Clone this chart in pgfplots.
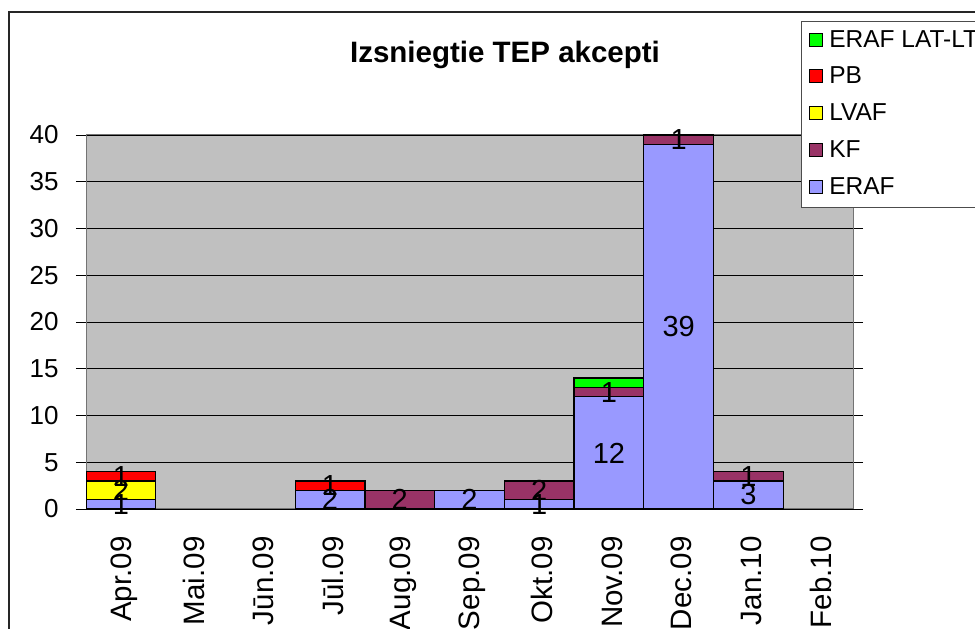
\documentclass[border=0pt]{standalone}
\usepackage{fontspec}
\setmainfont{Liberation Sans}
\usepackage{pgfplots}
\usepackage{pgfplotstable}
\pgfplotsset{compat=1.18}
\definecolor{eraf}{RGB}{153,153,255}
\definecolor{kf}{RGB}{153,51,102}
\definecolor{lvaf}{RGB}{255,255,0}
\definecolor{pb}{RGB}{255,0,0}
\definecolor{ltc}{RGB}{0,255,0}
\definecolor{plotbg}{RGB}{192,192,192}

\pgfplotstableread{
x ERAF KF LVAF PB LT
0 1 0 2 1 0
1 0 0 0 0 0
2 0 0 0 0 0
3 2 0 0 1 0
4 0 2 0 0 0
5 2 0 0 0 0
6 1 2 0 0 0
7 12 1 0 0 1
8 39 1 0 0 0
9 3 1 0 0 0
10 0 0 0 0 0
}\datatable

\pgfplotstableread{
x y label
0 0.5 1
0 2 2
0 3.5 1
3 1 2
3 2.5 1
4 1 2
5 1 2
6 0.5 1
6 2 2
7 6 12
7 12.5 1
8 19.5 39
8 39.5 1
9 1.5 3
9 3.5 1
}\labeltable

\begin{document}
\begin{tikzpicture}
\useasboundingbox (0pt,0pt) rectangle (975pt,629pt);
\clip (0pt,0pt) rectangle (975pt,629pt);
\draw[line width=2pt, black!85] (8.5pt,-10pt) -- (8.5pt,616.5pt) -- (990pt,616.5pt);
\begin{axis}[
  at={(86pt,120pt)}, anchor=south west,
  scale only axis, width=767pt, height=374pt,
  ybar stacked, bar width=69.73pt,
  xmin=-0.5, xmax=10.5, ymin=0, ymax=40,
  axis background/.style={fill=plotbg},
  axis line style={draw=black!55, line width=1pt},
  ymajorgrids, grid style={black, line width=0.8pt},
  ytick={0,5,...,40},
  xtick={0,...,10},
  xticklabels={Apr.09,Mai.09,Jūn.09,Jūl.09,Aug.09,Sep.09,Okt.09,Nov.09,Dec.09,Jan.10,Feb.10},
  x tick style={draw=none},
  extra x ticks={-0.5,0.5,...,10.5},
  extra x tick labels={},
  extra x tick style={tick style={draw=black, line width=0.8pt}, major tick length=8pt, tick align=outside, grid=none},
  y tick style={draw=black, line width=0.8pt},
  tick align=outside, major tick length=10pt,
  /pgf/number format/assume math mode=true,
  yticklabel style={font=\fontsize{26}{30}\selectfont, anchor=east, xshift=-14pt},
  xticklabel style={font=\fontsize{29.5}{33}\selectfont, yshift=-14pt, xshift=3pt, rotate=90, anchor=east},
  title={\bfseries Izsniegtie TEP akcepti},
  title style={at={(axis description cs:0.5463,1.1765)}, anchor=base, font=\fontsize{29.5}{33}\selectfont, inner sep=0pt},
  legend style={at={(axis description cs:0.9322,1.3048)}, anchor=north west,
    draw=black!70, line width=1pt, fill=white,
    font=\fontsize{24.5}{28}\selectfont,
    inner xsep=7pt, inner ysep=8.5pt, row sep=14.8pt,
    /tikz/every odd column/.append style={column sep=7pt},
    nodes={inner sep=0pt, text height=17pt, text depth=5pt}},
  legend cell align=left,
  reverse legend,
  legend image code/.code={\draw[#1, draw=black, line width=0.8pt] (0pt,-5pt) rectangle (13pt,8pt);},
  every axis plot/.append style={draw=black, line width=1.2pt},
]
\addplot[fill=eraf] table[x=x,y=ERAF] {\datatable};
\addlegendentry{ERAF}
\addplot[fill=kf] table[x=x,y=KF] {\datatable};
\addlegendentry{KF}
\addplot[fill=lvaf] table[x=x,y=LVAF] {\datatable};
\addlegendentry{LVAF}
\addplot[fill=pb] table[x=x,y=PB] {\datatable};
\addlegendentry{PB}
\addplot[fill=ltc] table[x=x,y=LT] {\datatable};
\addlegendentry{ERAF LAT-LT}
\end{axis}
\begin{axis}[
  at={(86pt,120pt)}, anchor=south west,
  scale only axis, width=767pt, height=374pt,
  xmin=-0.5, xmax=10.5, ymin=0, ymax=40,
  hide axis, clip=false,
]
\addplot[only marks, mark=none,
  nodes near coords, point meta=explicit symbolic,
  every node near coord/.append style={anchor=center, inner sep=0pt, font=\fontsize{29}{33}\selectfont}]
  table[x=x, y=y, meta=label] {\labeltable};
\end{axis}
\end{tikzpicture}
\end{document}
